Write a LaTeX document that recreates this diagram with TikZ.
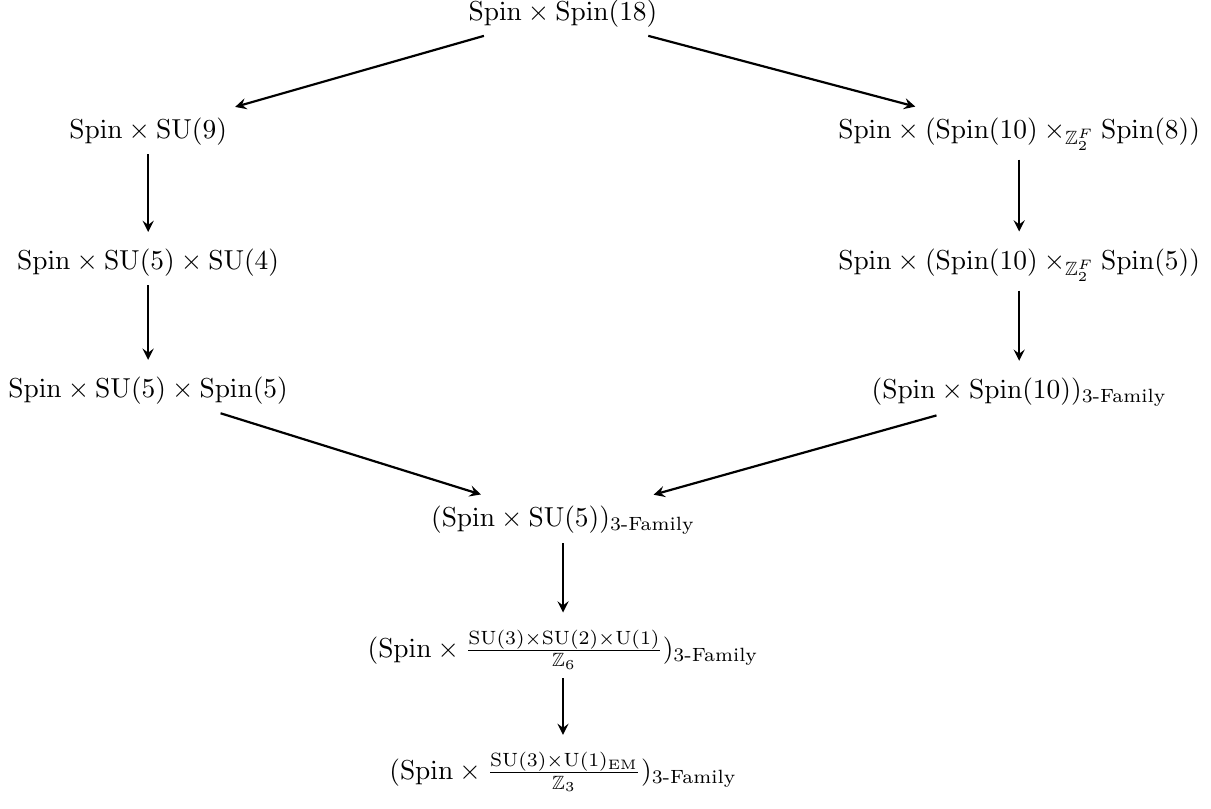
\documentclass[tikz,border=0pt]{standalone}
\usepackage{amsmath,amssymb}
\usetikzlibrary{arrows}
\tikzset{
>=stealth,
grp/.style={inner sep=1mm},
every path/.append style={shorten >=3pt}
}
\newcommand{\Spin}{\mathrm{Spin}}
\newcommand{\SU}{\mathrm{SU}}
\newcommand{\threefam}{\text{3-Family}}

\begin{document}
\begin{tikzpicture}[thick]
\useasboundingbox (0,0) rectangle (15.53,-10.37);

\node[grp] (top) at (7.22,-0.17)  {$\Spin\times\Spin(18)$};
\node[grp] (l1)  at (1.90,-1.69)  {$\Spin\times\SU(9)$};
\node[grp] (r1)  at (13.07,-1.72) {$\Spin\times(\Spin(10)\times_{\mathbb{Z}_2^F}\Spin(8))$};
\node[grp] (l2)  at (1.90,-3.37)  {$\Spin\times\SU(5)\times\SU(4)$};
\node[grp] (r2)  at (13.07,-3.40) {$\Spin\times(\Spin(10)\times_{\mathbb{Z}_2^F}\Spin(5))$};
\node[grp] (l3)  at (1.90,-5.01)  {$\Spin\times\SU(5)\times\Spin(5)$};
\node[grp] (r3)  at (13.07,-5.03) {$(\Spin\times\Spin(10))_{\threefam}$};
\node[grp] (m)   at (7.22,-6.67)  {$(\Spin\times\SU(5))_{\threefam}$};
\node[grp] (m2)  at (7.22,-8.33)  {$(\Spin\times\frac{\SU(3)\times\SU(2)\times\mathrm{U}(1)}{\mathbb{Z}_6})_{\threefam}$};
\node[grp] (m3)  at (7.22,-9.90)  {$(\Spin\times\frac{\SU(3)\times\mathrm{U}(1)_{\mathrm{EM}}}{\mathbb{Z}_3})_{\threefam}$};

\draw[->] (top) -- (l1);
\draw[->] (top) -- (r1);
\draw[->] (l1) -- (l2);
\draw[->] (l2) -- (l3);
\draw[->] (r1) -- (r2);
\draw[->] (r2) -- (r3);
\draw[->] (l3) -- (m);
\draw[->] (r3) -- (m);
\draw[->] (m) -- (m2);
\draw[->] (m2) -- (m3);
\end{tikzpicture}
\end{document}
